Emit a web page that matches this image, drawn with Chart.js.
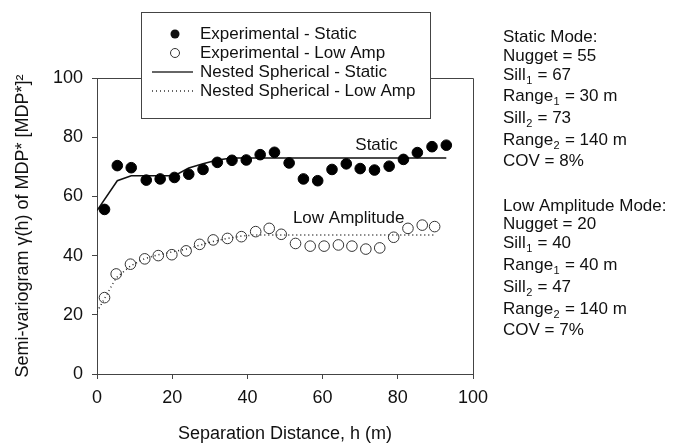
<!DOCTYPE html>
<html>
<head>
<meta charset="utf-8">
<script src="https://cdn.jsdelivr.net/npm/chart.js@4.4.1/dist/chart.umd.min.js"></script>
<style>
  html, body { margin: 0; padding: 0; background: #fff; }
</style>
</head>
<body>
<canvas id="chart" width="680" height="445"></canvas>
<script>
// experimental semi-variogram, static mode
const staticLag = [2.0, 5.4, 9.1, 13.1, 16.8, 20.6, 24.4, 28.2, 32.0, 35.9, 39.7, 43.4, 47.2, 51.1, 54.9, 58.7, 62.5, 66.3, 70.0, 73.8, 77.7, 81.5, 85.2, 89.1, 92.9];
const staticGamma = [55.6, 70.4, 69.7, 65.5, 65.9, 66.4, 67.5, 69.1, 71.5, 72.2, 72.3, 74.1, 74.9, 71.3, 65.9, 65.3, 69.1, 71.0, 69.4, 68.9, 70.2, 72.5, 74.8, 76.8, 77.3];

// experimental semi-variogram, low amplitude mode
const lowLag = [2.0, 5.1, 8.9, 12.7, 16.3, 19.9, 23.7, 27.3, 30.9, 34.7, 38.4, 42.2, 45.8, 49.0, 52.8, 56.7, 60.4, 64.2, 67.8, 71.5, 75.2, 78.9, 82.7, 86.5, 89.8];
const lowGamma = [25.8, 33.8, 37.1, 38.9, 40.0, 40.3, 41.6, 43.8, 45.3, 45.8, 46.4, 48.1, 49.2, 47.2, 44.1, 43.2, 43.2, 43.6, 43.2, 42.2, 42.6, 46.2, 49.2, 50.3, 49.8];

// nested spherical models
const modelStaticLag = [0, 5.4, 9.1, 20.6, 24.4, 28.2, 32.0, 35.9, 92.9];
const modelStaticGamma = [55.2, 65.3, 67.0, 67.0, 69.6, 71.0, 72.3, 73.0, 73.0];
const modelLowLag = [0, 2.0, 5.1, 8.9, 12.7, 16.3, 19.9, 23.7, 27.3, 30.9, 34.7, 38.4, 42.2, 89.8];
const modelLowGamma = [21.0, 25.5, 32.5, 36.5, 39.0, 40.3, 41.2, 42.2, 43.5, 44.8, 45.8, 46.6, 47.0, 47.0];

const seriesLabels = ["Experimental - Static", "Experimental - Low Amp", "Nested Spherical - Static", "Nested Spherical - Low Amp"];
const xTicks = [0, 20, 40, 60, 80, 100];
const yTicks = [0, 20, 40, 60, 80, 100];

// parameter text on the right: [main, subscript, rest]
const staticParams = [["Static Mode:", "", ""], ["Nugget = 55", "", ""], ["Sill", "1", " = 67"], ["Range", "1", " = 30 m"], ["Sill", "2", " = 73"], ["Range", "2", " = 140 m"], ["COV = 8%", "", ""]];
const lowParams = [["Low Amplitude Mode:", "", ""], ["Nugget = 20", "", ""], ["Sill", "1", " = 40"], ["Range", "1", " = 40 m"], ["Sill", "2", " = 47"], ["Range", "2", " = 140 m"], ["COV = 7%", "", ""]];

const FONT = "'Liberation Sans', Arial, sans-serif";
const axisColor = "#444";

function toPoints(xs, ys)
{
    return xs.map((x, i) => ({x: x, y: ys[i]}));
}

function drawParams(ctx, rows, x, ys)
{
    rows.forEach((r, i) => {
        let cx = x;
        ctx.font = "17px " + FONT;
        ctx.fillText(r[0], cx, ys[i]);
        cx += ctx.measureText(r[0]).width;
        if(r[1])
        {
            ctx.font = "11px " + FONT;
            ctx.fillText(r[1], cx + 0.5, ys[i] + 6);
            cx += ctx.measureText(r[1]).width + 1;
            ctx.font = "17px " + FONT;
            ctx.fillText(r[2], cx, ys[i]);
        }
    });
}

const extras = {
    id: "extras",
    afterDatasetsDraw(chart) {
        const ctx = chart.ctx;
        const a = chart.chartArea;
        const sx = chart.scales.x, sy = chart.scales.y;
        ctx.save();

        // top and right frame
        ctx.strokeStyle = axisColor;
        ctx.lineWidth = 1;
        ctx.beginPath();
        ctx.moveTo(a.left, a.top + 0.5);
        ctx.lineTo(a.right + 0.5, a.top + 0.5);
        ctx.lineTo(a.right + 0.5, a.bottom);
        ctx.stroke();

        // curve labels
        ctx.fillStyle = "#111";
        ctx.font = "17px " + FONT;
        ctx.textBaseline = "middle";
        ctx.textAlign = "left";
        ctx.fillText("Static", sx.getPixelForValue(68.7), sy.getPixelForValue(77.4));
        ctx.fillText("Low Amplitude", sx.getPixelForValue(52.1), sy.getPixelForValue(52.7));

        // legend box
        ctx.fillStyle = "#fff";
        ctx.fillRect(141, 12, 289, 106);
        ctx.strokeRect(141.5, 12.5, 289, 106);
        const rowY = [34, 53, 72, 91];
        ctx.fillStyle = "#111";
        seriesLabels.forEach((lab, i) => ctx.fillText(lab, 200, rowY[i]));
        ctx.beginPath();
        ctx.arc(175, rowY[0], 4.5, 0, Math.PI * 2);
        ctx.fill();
        ctx.beginPath();
        ctx.arc(175, rowY[1], 4.5, 0, Math.PI * 2);
        ctx.strokeStyle = "#333";
        ctx.stroke();
        ctx.lineWidth = 1.5;
        ctx.beginPath();
        ctx.moveTo(152, rowY[2]);
        ctx.lineTo(193, rowY[2]);
        ctx.stroke();
        ctx.setLineDash([1, 3]);
        ctx.beginPath();
        ctx.moveTo(152, rowY[3]);
        ctx.lineTo(193, rowY[3]);
        ctx.stroke();
        ctx.setLineDash([]);

        // parameter text
        drawParams(ctx, staticParams, 503, [37, 56, 75, 96, 118, 140, 161]);
        drawParams(ctx, lowParams, 503, [206, 224, 243, 265, 287, 309, 330]);
        ctx.restore();
    }
};

const ctx = document.getElementById("chart").getContext("2d");
new Chart(ctx, {
    type: "scatter",
    data: {
        datasets: [
            {
                label: seriesLabels[2],
                data: toPoints(modelStaticLag, modelStaticGamma),
                showLine: true,
                borderColor: "#111",
                borderWidth: 1.5,
                pointRadius: 0,
                order: 3
            },
            {
                label: seriesLabels[3],
                data: toPoints(modelLowLag, modelLowGamma),
                showLine: true,
                borderColor: "#222",
                borderWidth: 1.5,
                borderDash: [1, 3],
                pointRadius: 0,
                order: 4
            },
            {
                label: seriesLabels[0],
                data: toPoints(staticLag, staticGamma),
                pointRadius: 5.3,
                pointBackgroundColor: "#000",
                pointBorderColor: "#000",
                pointBorderWidth: 1,
                order: 1
            },
            {
                label: seriesLabels[1],
                data: toPoints(lowLag, lowGamma),
                pointRadius: 5.3,
                pointBackgroundColor: "rgba(255,255,255,0)",
                pointBorderColor: "#333",
                pointBorderWidth: 1,
                order: 2
            }
        ]
    },
    options: {
        responsive: false,
        animation: false,
        layout: { padding: { left: 0, top: 78, right: 207, bottom: 0 } },
        plugins: {
            legend: { display: false },
            tooltip: { enabled: false }
        },
        scales: {
            x: {
                type: "linear",
                min: 0,
                max: 100,
                afterFit: s => { s.height = 71; },
                afterBuildTicks: s => { s.ticks = xTicks.map(v => ({value: v})); },
                grid: { drawOnChartArea: false, drawTicks: true, tickLength: 5, color: axisColor },
                border: { display: true, color: axisColor },
                ticks: { color: "#111", padding: 8, font: { family: FONT, size: 18 } },
                title: { display: true, text: "Separation Distance, h (m)", color: "#111", padding: { top: 4, bottom: 0 }, font: { family: FONT, size: 18 } }
            },
            y: {
                type: "linear",
                min: 0,
                max: 100,
                afterFit: s => { s.width = 97; },
                afterBuildTicks: s => { s.ticks = yTicks.map(v => ({value: v})); },
                grid: { drawOnChartArea: false, drawTicks: true, tickLength: 5, color: axisColor },
                border: { display: true, color: axisColor },
                ticks: { color: "#111", padding: 9, font: { family: FONT, size: 18 } },
                title: { display: true, text: "Semi-variogram \u03B3(h) of MDP* [MDP*]\u00B2", color: "#111", padding: { top: 12, bottom: 4 }, font: { family: FONT, size: 18 } }
            }
        }
    },
    plugins: [extras]
});
</script>
</body>
</html>
